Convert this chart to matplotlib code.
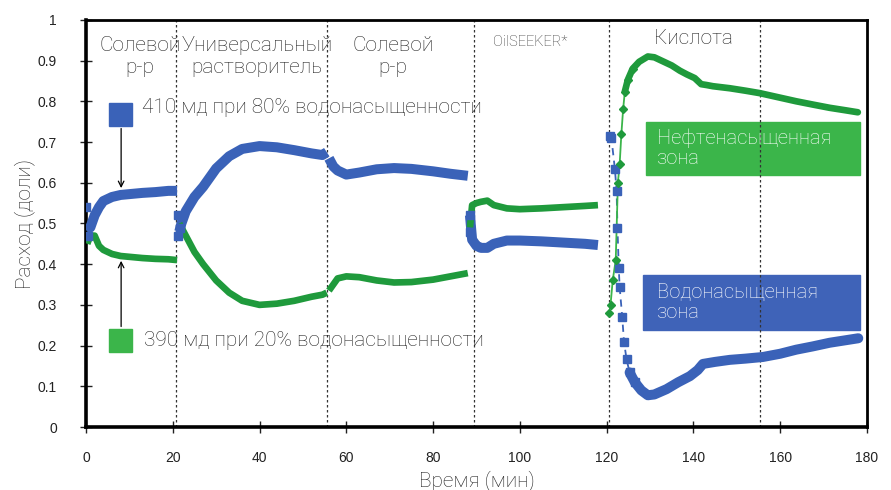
import matplotlib.pyplot as plt
from matplotlib.patches import Rectangle

# ---- DATA ----
# segment 1: saline solution
t1 = [0.3, 1, 2, 3, 4, 6, 8, 10, 13, 16, 19, 21]
blue1 = [0.50, 0.49, 0.52, 0.54, 0.555, 0.565, 0.57, 0.572, 0.575, 0.577, 0.58, 0.58]
green1 = [0.45, 0.47, 0.47, 0.445, 0.435, 0.425, 0.42, 0.418, 0.415, 0.413, 0.412, 0.41]

# segment 2: universal solvent
t2 = [21.5, 22, 23, 25, 27, 30, 33, 36, 40, 44, 48, 52, 54.5, 55.5]
blue2 = [0.48, 0.50, 0.53, 0.565, 0.59, 0.635, 0.665, 0.683, 0.69, 0.687, 0.68, 0.672, 0.668, 0.675]
green2 = [0.50, 0.49, 0.47, 0.43, 0.40, 0.36, 0.33, 0.31, 0.30, 0.303, 0.31, 0.32, 0.325, 0.33]

# segment 3: saline solution
t3 = [56, 57, 58, 60, 63, 67, 71, 75, 80, 84, 88]
blue3 = [0.66, 0.64, 0.63, 0.62, 0.625, 0.633, 0.636, 0.634, 0.628, 0.622, 0.617]
green3 = [0.335, 0.35, 0.365, 0.37, 0.368, 0.36, 0.355, 0.356, 0.362, 0.37, 0.378]

# segment 4: OilSEEKER
t4 = [88.5, 89, 90, 91, 92.5, 94, 97, 100, 105, 110, 115, 118]
blue4 = [0.52, 0.46, 0.445, 0.44, 0.44, 0.45, 0.458, 0.458, 0.456, 0.453, 0.45, 0.447]
green4 = [0.49, 0.545, 0.55, 0.553, 0.556, 0.545, 0.537, 0.535, 0.537, 0.54, 0.543, 0.545]

# segment 5: acid
t5b = [120.8, 121.1, 121.9, 122.3, 122.5, 122.8, 123.0, 123.6, 124.0, 124.6, 125.3,
       126.5, 128, 129.5, 131, 133.8, 136.5, 139.2, 141, 142.2, 145, 148.4, 152,
       156, 160, 163.7, 167.5, 171.4, 175, 178]
blue5 = [0.715, 0.71, 0.634, 0.58, 0.49, 0.39, 0.344, 0.27, 0.21, 0.166, 0.134,
         0.11, 0.09, 0.078, 0.08, 0.093, 0.11, 0.125, 0.14, 0.155, 0.16, 0.165, 0.168,
         0.172, 0.18, 0.19, 0.198, 0.207, 0.213, 0.218]
t5g = [120.6, 120.9, 121.4, 122.1, 122.6, 123.0, 123.4, 123.8, 124.2, 124.9, 126,
       127.5, 129.5, 131, 133, 135, 136.9, 138.5, 140.3, 141.8, 143, 144.5, 148.4,
       152, 155.3, 159.5, 163.7, 167.5, 171.4, 175, 177.9]
green5 = [0.28, 0.30, 0.36, 0.41, 0.60, 0.645, 0.72, 0.78, 0.824, 0.853, 0.88,
          0.897, 0.91, 0.908, 0.898, 0.888, 0.875, 0.866, 0.857, 0.842, 0.84, 0.837, 0.832,
          0.826, 0.82, 0.81, 0.80, 0.792, 0.784, 0.778, 0.773]

boundaries = [20.7, 55.5, 89.4, 120.5, 155.3]
xticks = [0, 20, 40, 60, 80, 100, 120, 140, 160, 180]
yticks = [0, 0.1, 0.2, 0.3, 0.4, 0.5, 0.6, 0.7, 0.8, 0.9, 1]

BLUE = "#3a62b8"
GREEN = "#1f9a3c"
BOXGREEN = "#3bb54a"
BOXBLUE = "#3f63b8"
TXT = "#222222"
FONT = "Roboto"
FS = 15

fig = plt.figure(figsize=(8.91, 4.90), dpi=100)
ax = fig.add_axes([0.0965, 0.1285, 0.8765, 0.831])

# ---- curves ----
for t, b, g in [(t1, blue1, green1), (t2, blue2, green2), (t3, blue3, green3), (t4, blue4, green4)]:
    ax.plot(t, b, color=BLUE, lw=7.2, solid_capstyle="butt", solid_joinstyle="round", zorder=3)
    ax.plot(t, g, color=GREEN, lw=4.8, solid_capstyle="butt", solid_joinstyle="round", zorder=3)

# acid segment: steep part with markers, then thick curves
ax.plot(t5b[:12], blue5[:12], color=BLUE, lw=1.3, ls=(0, (4, 3)), zorder=3)
ax.plot(t5b[:12], blue5[:12], ls="none", marker="s", ms=5.5, color=BLUE, zorder=4)
ax.plot(t5b[10:], blue5[10:], color=BLUE, lw=7.2, solid_capstyle="round", zorder=3)
ax.plot(t5g[:11], green5[:11], color=BOXGREEN, lw=1.3, zorder=3)
ax.plot(t5g[:11], green5[:11], ls="none", marker="D", ms=4, color=GREEN, zorder=4)
ax.plot(t5g[8:], green5[8:], color=GREEN, lw=4.8, solid_capstyle="round", zorder=3)

# first points of each earlier segment shown as markers
ax.plot([0, 0.4, 21.3, 21.3, 21.6, 88.4, 88.6], [0.54, 0.47, 0.52, 0.47, 0.49, 0.52, 0.48],
        ls="none", marker="s", ms=5.5, color=BLUE, zorder=4)

for xb in boundaries:
    ax.axvline(xb, color="#333333", lw=0.9, ls=(0, (2, 2)), zorder=2)

# ---- stage labels ----
lab_kw = dict(ha="center", va="center", fontsize=FS, color=TXT, family=FONT,
              fontweight="light", linespacing=1.25)
ax.text(12.4, 0.91, "Солевой\nр-р", **lab_kw)
ax.text(39.4, 0.91, "Универсальный\nрастворитель", **lab_kw)
ax.text(70.8, 0.91, "Солевой\nр-р", **lab_kw)
ax.text(102.5, 0.945, "OilSEEKER*", ha="center", va="center", fontsize=10.5, color="#3a3a3a",
        family=FONT, fontweight="light")
ax.text(140.0, 0.955, "Кислота", **lab_kw)

# ---- permeability legend squares with arrows ----
ax.add_patch(Rectangle((5.4, 0.74), 5.3, 0.055, color=BLUE, zorder=5))
ax.text(13.0, 0.784, "410 мд при 80% водонасыщенности", ha="left", va="center",
        fontsize=FS, color=TXT, family=FONT, fontweight="light")
ax.annotate("", xy=(8.1, 0.58), xytext=(8.1, 0.74),
            arrowprops=dict(arrowstyle="->", color="black", lw=0.9), zorder=5)

ax.add_patch(Rectangle((5.4, 0.185), 5.3, 0.055, color=BOXGREEN, zorder=5))
ax.text(13.3, 0.213, "390 мд при 20% водонасыщенности", ha="left", va="center",
        fontsize=FS, color=TXT, family=FONT, fontweight="light")
ax.annotate("", xy=(8.1, 0.415), xytext=(8.1, 0.24),
            arrowprops=dict(arrowstyle="->", color="black", lw=0.9), zorder=5)

# ---- zone boxes ----
ax.add_patch(Rectangle((129.0, 0.62), 49.5, 0.128, color=BOXGREEN, zorder=1))
ax.text(131.5, 0.684, "Нефтенасыщенная\nзона", ha="left", va="center", fontsize=14.5,
        color="white", family=FONT, fontweight="light", linespacing=1.05, zorder=6)
ax.add_patch(Rectangle((128.3, 0.238), 50.2, 0.135, color=BOXBLUE, zorder=1))
ax.text(131.5, 0.305, "Водонасыщенная\nзона", ha="left", va="center", fontsize=14.5,
        color="white", family=FONT, fontweight="light", linespacing=1.05, zorder=6)

# ---- axes ----
ax.set_xlim(0, 180)
ax.set_ylim(0, 1)
ax.set_xticks(xticks)
ax.set_yticks(yticks)
ax.set_yticklabels(["0", "0.1", "0.2", "0.3", "0.4", "0.5", "0.6", "0.7", "0.8", "0.9", "1"])
ax.tick_params(direction="inout", length=8, width=1, color="#222222", labelsize=10,
               labelcolor="#222222")
ax.tick_params(axis="x", pad=13)
ax.tick_params(axis="y", pad=17)
for lbl in ax.get_xticklabels() + ax.get_yticklabels():
    lbl.set_family("Liberation Sans")
for sp in ax.spines.values():
    sp.set_linewidth(2.6)
    sp.set_color("black")
ax.spines["top"].set_linewidth(2.0)
ax.spines["right"].set_linewidth(2.0)

ax.set_xlabel("Время (мин)", fontsize=FS, color=TXT, family=FONT, fontweight="light", labelpad=4)
ax.set_ylabel("Расход (доли)", fontsize=FS, color=TXT, family=FONT, fontweight="light", labelpad=2)

fig.savefig("out.png", dpi=100)
